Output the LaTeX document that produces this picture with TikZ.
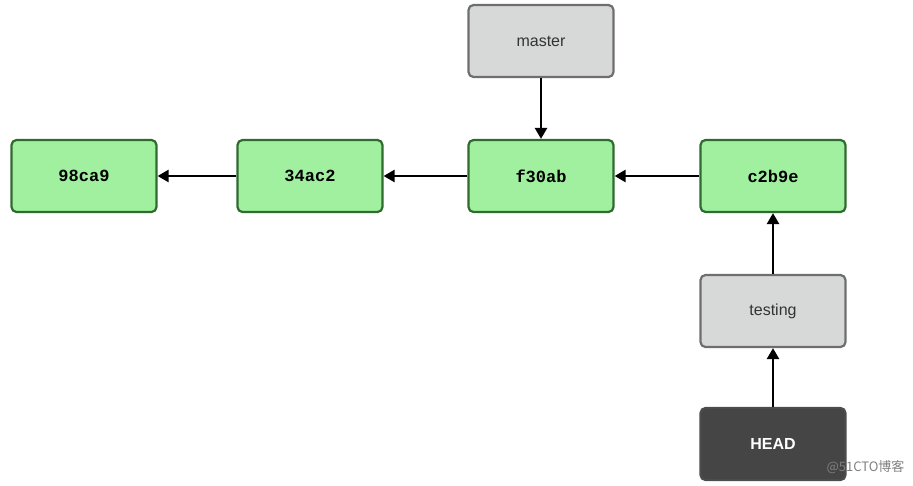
\documentclass[tikz,border=0pt]{standalone}
\usepackage{fontspec}
\setmainfont{Liberation Sans}
\setmonofont{Liberation Mono}
\newfontfamily\cjk{Noto Sans CJK SC}
\usetikzlibrary{arrows.meta}
\definecolor{cgreen}{HTML}{A0F0A0}
\definecolor{cgreenb}{HTML}{2F6A2F}
\definecolor{cgray}{HTML}{D6D9D8}
\definecolor{cgrayb}{HTML}{6E6E6E}
\definecolor{chead}{HTML}{454545}
\tikzset{
 box/.style={rounded corners=5pt, line width=2.2pt, minimum width=145pt, minimum height=72pt, inner sep=0pt},
 commit/.style={box, draw=cgreenb, fill=cgreen, font=\ttfamily\bfseries\fontsize{17}{17}\selectfont},
 branch/.style={box, draw=cgrayb, fill=cgray, font=\fontsize{16}{16}\selectfont, text=black!80},
 headbox/.style={box, draw=black!70, fill=chead, text=white, font=\bfseries\fontsize{16}{16}\selectfont},
 arr/.style={line width=2.5pt, -{Triangle[length=11pt,width=12pt]}}
}
\begin{document}
\begin{tikzpicture}[x=1pt,y=-1pt]
\useasboundingbox (0,0) rectangle (913,485);
\node[commit] (a) at (84,176) {98ca9};
\node[commit] (b) at (310,176) {34ac2};
\node[commit] (c) at (541,176) {f30ab};
\node[commit] (d) at (773,176) {c2b9e};
\node[branch] (m) at (541,41) {master};
\node[branch] (t) at (773,311) {testing};
\node[headbox] (h) at (773,444) {HEAD};
\draw[arr] (b) -- (a);
\draw[arr] (c) -- (b);
\draw[arr] (d) -- (c);
\draw[arr] (m) -- (c);
\draw[arr] (t) -- (d);
\draw[arr] (h) -- (t);
\node[text=gray, font=\cjk\fontsize{13}{13}\selectfont, anchor=east] (w) at (908,467) {@51CTO博客};
\end{tikzpicture}
\end{document}
